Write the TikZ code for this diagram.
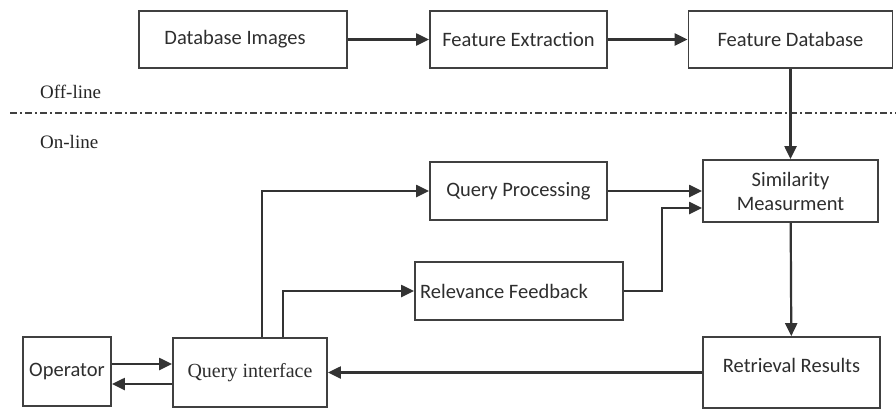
\documentclass[tikz,border=0pt]{standalone}
\usepackage{fontspec}
\setmainfont{Carlito}
\newfontfamily\serifrm{Liberation Serif}
\usetikzlibrary{arrows.meta}
\tikzset{blk/.style={rectangle,draw=black!75,line width=1.8pt,text=black!82,inner sep=0pt,align=center}}
\tikzset{t/.style={text=black!85,inner sep=0pt,anchor=west,font=\serifrm\fontsize{19}{22}\selectfont}}
\tikzset{ar/.style={draw=black!80,line width=2.2pt,-{Triangle[length=13pt,width=12pt]}}}

\begin{document}
\begin{tikzpicture}[x=1pt,y=-1pt,font=\fontsize{20.5}{24}\selectfont]
      \useasboundingbox[fill=white] (0,0) rectangle (896,410);
      \node[blk,minimum width=208pt,minimum height=57pt] (dbimg) at (243,39.5) {Database Images\hspace*{16pt}};
      \node[blk,minimum width=177pt,minimum height=57pt] (featext) at (518.5,39.5) {Feature Extraction};
      \node[blk,minimum width=204pt,minimum height=57pt] (featdb) at (790.5,39.5) {Feature Database};
      \node[blk,minimum width=175pt,minimum height=62pt] (simil) at (790.5,191) {Similarity\\Measurment};
      \node[blk,minimum width=177pt,minimum height=58pt] (qproc) at (518.5,191) {Query Processing};
      \node[blk,minimum width=208pt,minimum height=58pt] (relfb) at (519,291) {Relevance Feedback\hspace*{30pt}};
      \node[blk,minimum width=177pt,minimum height=71pt] (retr) at (791.5,372.5) {Retrieval Results\\[-9pt]\mbox{}};
      \node[blk,minimum width=154pt,minimum height=69pt,font=\serifrm\fontsize{20}{24}\selectfont] (qint) at (250,372.5) {Query interface};
      \node[blk,minimum width=88pt,minimum height=69pt] (oper) at (67,371.5) {Operator};
      \node[t] (offl) at (40,92) {Off-line};
      \node[t] (onl) at (40,142) {On-line};
      \coordinate (sepa) at (10,113);
      \coordinate (sepb) at (896,113);
      \coordinate (rfturn) at (662,208);
      \draw[draw=black!75,line width=1.8pt,dash pattern=on 7pt off 3pt on 2pt off 3pt] (sepa) -- (sepb);
      \draw[ar] (dbimg) -- (featext);
      \draw[ar] (featext) -- (featdb);
      \draw[ar] (featdb) -- (simil);
      \draw[ar] (qproc.east) -- (qproc.east -| simil.west);
      \draw[ar] (relfb.east) -| (rfturn) -- (rfturn -| simil.west);
      \draw[ar] (simil) -- (retr);
      \draw[ar] (retr) -- (qint);
      \draw[ar] ([xshift=12pt]qint.north) |- (qproc.west);
      \draw[ar] ([xshift=33pt]qint.north) |- (relfb.west);
      \draw[ar] ([yshift=7.5pt]oper.east) -- ([yshift=7.5pt]oper.east -| qint.west);
      \draw[ar] ([yshift=-11.5pt]qint.west) -- ([yshift=-11.5pt]qint.west -| oper.east);
    \end{tikzpicture}
\end{document}
